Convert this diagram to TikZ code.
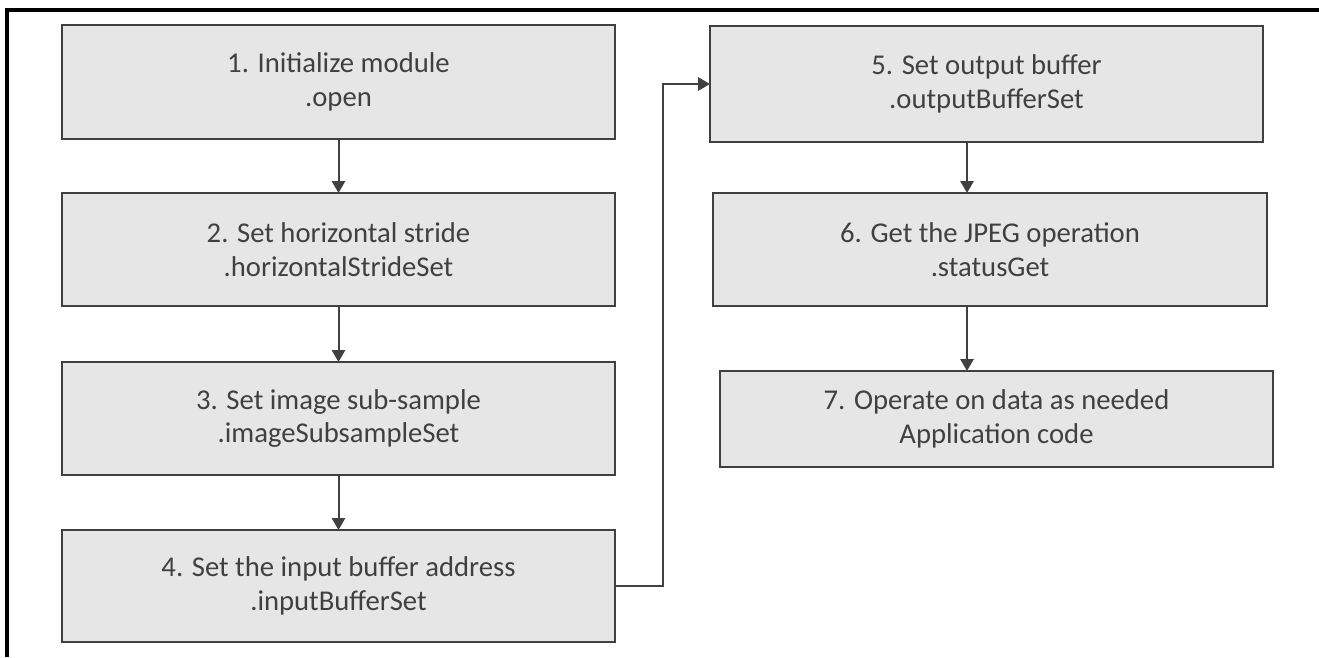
\documentclass[tikz,border=0pt]{standalone}
\usepackage{fontspec}
\setmainfont{Carlito}
\usetikzlibrary{arrows.meta}
\definecolor{boxfill}{HTML}{E6E6E6}
\definecolor{boxline}{HTML}{404040}
\definecolor{txt}{HTML}{404040}
\tikzset{
  stepbox/.style={draw=boxline, line width=1.6pt, fill=boxfill, rectangle,
    inner sep=0pt, outer sep=0pt},
  steptext/.style={text=txt, font=\fontsize{21.5}{25}\selectfont, align=center, inner sep=0pt},
  arr/.style={draw=boxline, line width=1.5pt, -{Triangle[width=10pt,length=9pt]}},
  frame/.style={line width=2.3pt, black}
}
\begin{document}
\begin{tikzpicture}[x=0.75pt,y=-0.75pt]
\useasboundingbox (0,0) rectangle (1319,657);
\draw[frame] (7,657) -- (7,10) -- (1319,10);
% left column
\node[stepbox, minimum width=414.75pt, minimum height=85.5pt] (b1) at (338.5,82) {};
\node[steptext] (t1) at (b1.center) {1. Initialize module\\.open};
\node[stepbox, minimum width=414.75pt, minimum height=84.75pt] (b2) at (338.5,249.5) {};
\node[steptext] (t2) at (b2.center) {2. Set horizontal stride\\.horizontalStrideSet};
\node[stepbox, minimum width=414.75pt, minimum height=84.75pt] (b3) at (338.5,418.5) {};
\node[steptext] (t3) at (b3.center) {3. Set image sub-sample\\.imageSubsampleSet};
\node[stepbox, minimum width=414.75pt, minimum height=84pt] (b4) at (338.5,586) {};
\node[steptext] (t4) at (b4.center) {4. Set the input buffer address\\.inputBufferSet};
% right column
\coordinate (rc) at (967,0);
\node[stepbox, minimum width=414.75pt, minimum height=87pt] (b5) at (986.5,84) {};
\node[steptext] (t5) at (b5.center) {5. Set output buffer\\.outputBufferSet};
\node[stepbox, minimum width=415.5pt, minimum height=84.75pt] (b6) at (990,249.5) {};
\node[steptext] (t6) at (b6.center) {6. Get the JPEG operation\\.statusGet};
\node[stepbox, minimum width=414.75pt, minimum height=72pt] (b7) at (996.5,419) {};
\node[steptext] (t7) at (b7.center) {7. Operate on data as needed\\Application code};
% connectors
\draw[arr] (b1.south) -- (b2.north);
\draw[arr] (b2.south) -- (b3.north);
\draw[arr] (b3.south) -- (b4.north);
\coordinate (elb) at (663,0);
\draw[arr] (b4.east) -- (b4.east -| elb) -- (b5.west -| elb) -- (b5.west);
\draw[arr] (b5.south -| rc) -- (b6.north -| rc);
\draw[arr] (b6.south -| rc) -- (b7.north -| rc);
\end{tikzpicture}
\end{document}
